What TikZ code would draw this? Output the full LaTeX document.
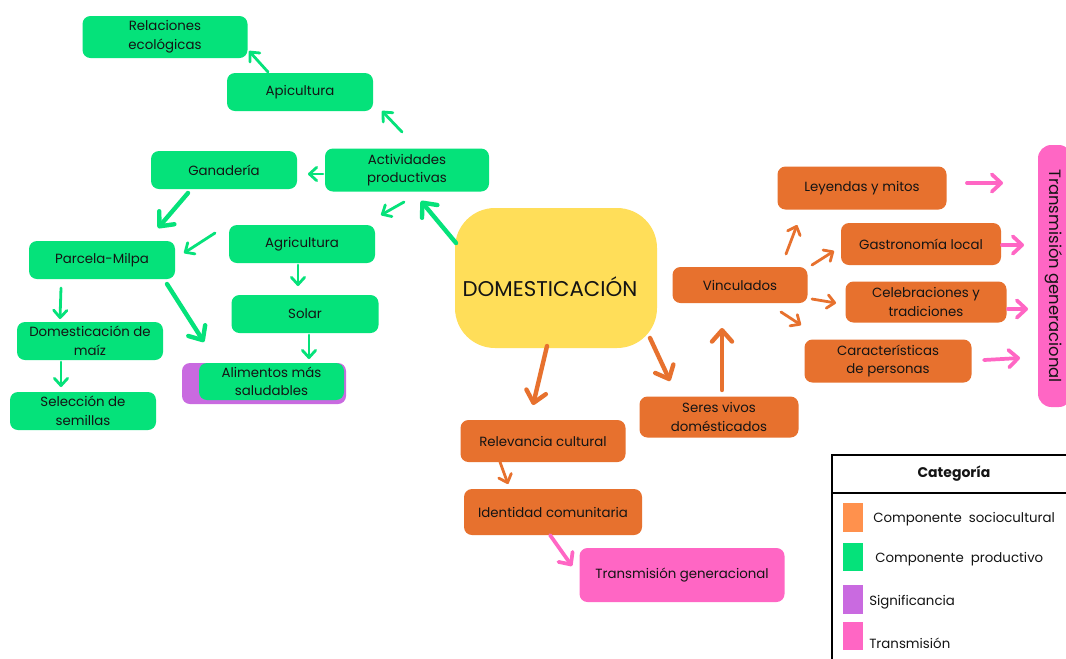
\documentclass[tikz,border=0pt]{standalone}
\usepackage{fontspec}
\setmainfont{Poppins}
\usetikzlibrary{arrows.meta}
\definecolor{cgreen}{RGB}{5,226,122}
\definecolor{corange}{RGB}{231,113,46}
\definecolor{cyellow}{RGB}{255,222,89}
\definecolor{cpurple}{RGB}{201,106,224}
\definecolor{cpink}{RGB}{255,102,196}
\definecolor{clorange}{RGB}{255,145,77}
\definecolor{ctext}{RGB}{20,20,20}
\newcommand\myarr[4]{\coordinate (#1s) at (#2); \coordinate (#1e) at (#3); \draw[#4] (#1s) -- (#1e);}
\begin{document}
\begin{tikzpicture}[x=0.75pt,y=-0.75pt,
  wh/.style 2 args={minimum width=#1*0.75pt, minimum height=#2*0.75pt},
  box/.style={rounded corners=6pt, inner sep=0pt, align=center, text=ctext,
    font=\fontsize{10}{14}\selectfont},
  gbox/.style={box, fill=cgreen},
  obox/.style={box, fill=corange},
  pbox/.style={box, fill=cpink},
  thinar/.style={line width=2.1pt, line cap=round,
    -{Straight Barb[length=5.5pt,width=10pt,line cap=round,line join=round]}},
  thickar/.style={line width=3.3pt, line cap=round,
    -{Straight Barb[length=8.5pt,width=15pt,line cap=round,line join=round]}},
  garr/.style={thinar, draw=cgreen},
  garrt/.style={thickar, draw=cgreen},
  oarr/.style={thinar, draw=corange},
  oarrt/.style={thickar, draw=corange},
  parr/.style={line width=2.8pt, line cap=round, draw=cpink,
    -{Straight Barb[length=7pt,width=13pt,line cap=round,line join=round]}},
  legtxt/.style={anchor=west, inner sep=0pt, text=ctext, font=\fontsize{10}{12}\selectfont}
]
\useasboundingbox (0,0) rectangle (1066,658);
\fill[white] (0,0) rectangle (1066,658);

% green nodes
\node[gbox, wh={165}{42}] (rel) at (165,37) {Relaciones\\ecológicas};
\node[gbox, wh={146}{38}] (api) at (300,92) {Apicultura};
\node[gbox, wh={164}{43}] (act) at (407,170) {Actividades\\productivas};
\node[gbox, wh={146}{38}] (gan) at (224,170) {Ganadería};
\node[gbox, wh={146}{38}] (agr) at (302,244) {Agricultura};
\node[gbox, wh={146}{38}] (par) at (102,260) {Parcela-Milpa};
\node[gbox, wh={147}{38}] (sol) at (305,314) {Solar};
\node[gbox, wh={146}{38}] (domz) at (90,341) {Domesticación de\\maíz};
\node[box, fill=cpurple, wh={164}{41}] (alimp) at (264,383.5) {};
\node[gbox, wh={145}{37}] (alim) at (271.5,381.5) {Alimentos más\\saludables};
\node[gbox, wh={146}{38}] (sel) at (83,411) {Selección de\\semillas};

% central
\node[box, fill=cyellow, rounded corners=30pt, wh={202}{140}] (dom) at (556,278) {};
\node[inner sep=0pt, text=ctext, font=\fontsize{16}{18}\selectfont] (domt) at (550,287) {DOMESTICACIÓN};

% orange nodes
\node[obox, wh={135}{36}] (vin) at (740,285) {Vinculados};
\node[obox, wh={159}{41}] (ser) at (719,417) {Seres vivos\\domésticados};
\node[obox, wh={165}{42}] (relv) at (543,441) {Relevancia cultural};
\node[obox, wh={178}{46}] (ide) at (553,512) {Identidad comunitaria};
\node[pbox, wh={205}{54}] (trg) at (682,575) {Transmisión generacional};
\node[obox, wh={169}{43}] (ley) at (862,188) {Leyendas y mitos};
\node[obox, wh={160}{42}] (gas) at (921,244) {Gastronomía local};
\node[obox, wh={161}{41}] (cel) at (926,302) {Celebraciones y\\tradiciones};
\node[obox, wh={167}{43}] (car) at (888,361) {Características\\de personas};
\node[pbox, rounded corners=10pt, wh={34}{262}] (tv) at (1055,276) {};
\node[inner sep=0pt, rotate=-90, text=ctext, font=\fontsize{12.3}{14}\selectfont] (tvt) at (1054,276) {Transmisión generacional};

% green arrows
\myarr{a1}{456,243}{421,201}{garrt}
\myarr{a2}{402,132}{382,111}{garr}
\myarr{a3}{268,72}{249,51}{garr}
\myarr{a4}{323,174}{308,174}{garr}
\myarr{a5}{404,202}{381,215}{garr}
\myarr{a6}{188,193}{158,228}{garrt}
\myarr{a7}{215,233}{184,253}{garr}
\myarr{a8}{167,284}{204,342}{garrt}
\myarr{a9}{298,265}{298,286}{garr}
\myarr{a10}{309,335}{309,359}{garr}
\myarr{a11}{61,288}{60,319}{garr}
\myarr{a12}{61,362}{61,387}{garr}

% orange arrows
\myarr{b1}{547,346}{533,405}{oarrt}
\myarr{b2}{650,338}{670,381}{oarrt}
\myarr{b3}{722,390}{722,328}{oarrt}
\myarr{b4}{500,462}{508,484}{oarr}
\myarr{b6}{786,254}{797,225}{oarr}
\myarr{b7}{812,265}{834,251}{oarr}
\myarr{b8}{812,299}{836,303}{oarr}
\myarr{b9}{781,312}{801,325}{oarr}

% pink arrows
\myarr{b5}{550,535}{572,566}{parr}
\myarr{c1}{967,183}{1003,183}{parr}
\myarr{c2}{1002,245}{1024,245}{parr}
\myarr{c3}{1008,309}{1028,309}{parr}
\myarr{c4}{984,360}{1020,358}{parr}

% legend
\draw[line width=1.6pt, black, fill=white] (832,455) rectangle (1072,664);
\draw[line width=1.6pt, black] (832,493) -- (1072,493);
\node[inner sep=0pt, font=\bfseries\fontsize{10.5}{12}\selectfont, text=ctext] (legt) at (954,474) {Categoría};
\node[fill=clorange, wh={20}{29}, inner sep=0pt] (s1) at (853,517.5) {};
\node[fill=cgreen, wh={20}{28}, inner sep=0pt] (s2) at (853,557) {};
\node[fill=cpurple, wh={20}{29}, inner sep=0pt] (s3) at (853,599.5) {};
\node[fill=cpink, wh={20}{28}, inner sep=0pt] (s4) at (853,636) {};
\node[legtxt] (l1) at (873,519) {Componente\ \ sociocultural};
\node[legtxt] (l2) at (875,559) {Componente\ \ productivo};
\node[legtxt] (l3) at (869,602) {Significancia};
\node[legtxt] (l4) at (869,643) {Transmisión};
\end{tikzpicture}
\end{document}
